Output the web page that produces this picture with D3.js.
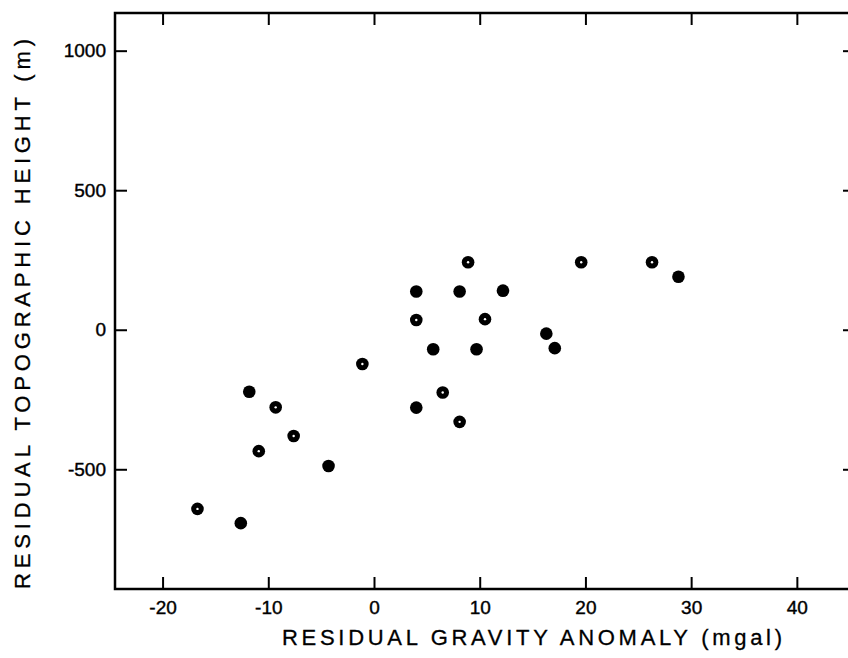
<!DOCTYPE html>
<html>
<head>
<meta charset="utf-8">
<script src="https://cdn.jsdelivr.net/npm/d3@7"></script>
<style>
  body { margin: 0; background: #fff; }
  svg text { font-family: "Liberation Sans", Arial, sans-serif; fill: #000; }
</style>
</head>
<body>
<div id="visContainer"></div>
<script>
// tick values
const xTicks = [-20, -10, 0, 10, 20, 30, 40];
const yTicks = [-500, 0, 500, 1000];

// solid black dots
const solidGravity = [-12.6, -11.8, -4.3, 4.0, 8.1, 12.2, 16.3, 5.6, 9.7, 17.1, 4.0, 28.8];
const solidHeight = [-693, -222, -488, 137, 137, 140, -14, -70, -70, -66, -279, 190];

// dots with a small white centre
const ringGravity = [-16.7, -10.9, -9.3, -7.6, -1.1, 8.9, 19.6, 4.0, 10.5, 6.5, 8.1, 26.3];
const ringHeight = [-642, -435, -278, -381, -123, 242, 242, 35, 38, -225, -330, 242];

const width = 848;
const height = 658;
const frame = { left: 115, right: 855, top: 13, bottom: 589 };

const svg = d3
  .select("#visContainer")
  .append("svg")
  .attr("width", width)
  .attr("height", height);

const xScale = d3.scaleLinear().domain([-24.5, 45.5]).range([frame.left, frame.right]);
const yScale = d3.scaleLinear().domain([-929, 1135]).range([frame.bottom, frame.top]);

// frame
svg.append("rect")
  .attr("x", frame.left)
  .attr("y", frame.top)
  .attr("width", frame.right - frame.left)
  .attr("height", frame.bottom - frame.top)
  .attr("fill", "none")
  .attr("stroke", "#000")
  .attr("stroke-width", 2.5);

function styleAxis(g) {
  g.select(".domain").remove();
  g.selectAll(".tick line").attr("stroke", "#000").attr("stroke-width", 2);
  g.selectAll(".tick text")
    .attr("font-size", 19)
    .attr("stroke", "#000")
    .attr("stroke-width", 0.4);
}

// bottom axis with labels
svg.append("g")
  .attr("transform", `translate(0, ${frame.bottom})`)
  .call(d3.axisBottom(xScale).tickValues(xTicks).tickSize(-12).tickPadding(12).tickFormat((d) => String(d)))
  .call(styleAxis);

// top axis, ticks only
svg.append("g")
  .attr("transform", `translate(0, ${frame.top})`)
  .call(d3.axisTop(xScale).tickValues(xTicks).tickSize(-12).tickFormat(""))
  .call(styleAxis);

// left axis with labels
svg.append("g")
  .attr("transform", `translate(${frame.left}, 0)`)
  .call(d3.axisLeft(yScale).tickValues(yTicks).tickSize(-12).tickPadding(9).tickFormat((d) => String(d)))
  .call(styleAxis);

// right axis, ticks only
svg.append("g")
  .attr("transform", `translate(${frame.right}, 0)`)
  .call(d3.axisRight(yScale).tickValues(yTicks).tickSize(-12).tickFormat(""))
  .call(styleAxis);

// axis titles
svg.append("text")
  .attr("x", 532)
  .attr("y", 645)
  .attr("text-anchor", "middle")
  .attr("font-size", 22)
  .attr("stroke", "#000")
  .attr("stroke-width", 0.3)
  .attr("textLength", 500)
  .attr("lengthAdjust", "spacing")
  .text("RESIDUAL GRAVITY ANOMALY (mgal)");

svg.append("text")
  .attr("transform", "translate(30, 314) rotate(-90)")
  .attr("text-anchor", "middle")
  .attr("font-size", 22)
  .attr("stroke", "#000")
  .attr("stroke-width", 0.3)
  .attr("textLength", 550)
  .attr("lengthAdjust", "spacing")
  .text("RESIDUAL TOPOGRAPHIC HEIGHT (m)");

// points
const solid = solidGravity.map((g, i) => ({ g, h: solidHeight[i] }));
const ring = ringGravity.map((g, i) => ({ g, h: ringHeight[i] }));

svg.append("g")
  .selectAll("circle")
  .data(solid.concat(ring))
  .join("circle")
  .attr("cx", (d) => xScale(d.g))
  .attr("cy", (d) => yScale(d.h))
  .attr("r", 6.3)
  .attr("fill", "#000");

svg.append("g")
  .selectAll("circle")
  .data(ring)
  .join("circle")
  .attr("cx", (d) => xScale(d.g))
  .attr("cy", (d) => yScale(d.h))
  .attr("r", 1.2)
  .attr("fill", "#fff");
</script>
</body>
</html>
